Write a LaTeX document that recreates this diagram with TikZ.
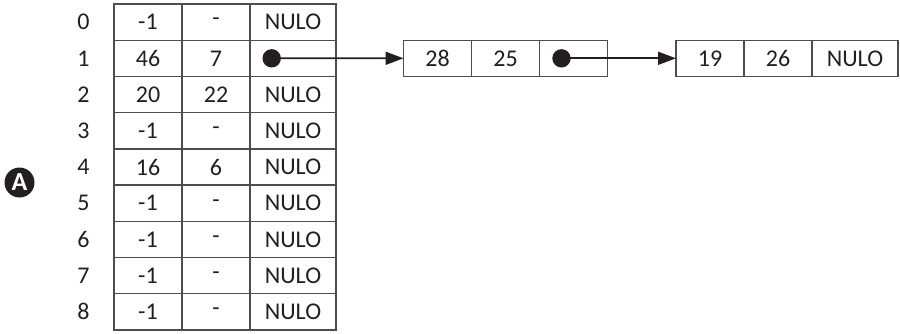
\documentclass[tikz,border=0pt]{standalone}
\usepackage{fontspec}
\setmainfont{Carlito}
\usetikzlibrary{arrows.meta}
\definecolor{gridgray}{HTML}{4D4D4D}
\definecolor{inkcol}{HTML}{231F20}
\begin{document}
\begin{tikzpicture}[x=1pt,y=-1pt,
  cell/.style={draw=gridgray, line width=1.4pt, minimum height=36.2pt,
    inner sep=0pt, outer sep=0pt, anchor=north west, text=inkcol,
    font=\fontsize{24}{27}\selectfont},
  narrow/.style={cell, minimum width=68pt},
  wide/.style={cell, minimum width=86pt},
  idx/.style={text=inkcol, font=\fontsize{24}{27}\selectfont, inner sep=0pt},
  ptr/.style={draw=inkcol, line width=1.8pt,
    -{Triangle[length=18pt,width=13pt]}},
  dot/.style={fill=inkcol},
  badge/.style={circle, fill=inkcol, minimum size=30pt, inner sep=0pt,
    text=white, font=\fontsize{26}{28}\selectfont\bfseries}]
\useasboundingbox (0,0) rectangle (900,333);

% hash table: index, key, value, next
\foreach \i/\k/\v/\n in {0/-1/-/NULO, 1/46/7/, 2/20/22/NULO, 3/-1/-/NULO,
    4/16/6/NULO, 5/-1/-/NULO, 6/-1/-/NULO, 7/-1/-/NULO, 8/-1/-/NULO} {
  \node[narrow] (t\i a) at (114, 4+36.22*\i) {\k};
  \node[narrow] (t\i b) at (182, 4+36.22*\i) {\v};
  \node[wide]   (t\i c) at (250, 4+36.22*\i) {\n};
  \node[idx] (r\i) at (83.5, 22.1+36.22*\i) {\i};
}

% chained list nodes
\node[narrow] (p1a) at (403.5, 40.2) {28};
\node[narrow] (p1b) at (471.5, 40.2) {25};
\node[narrow] (p1c) at (539.5, 40.2) {};
\node[narrow] (p2a) at (676, 40.2) {19};
\node[narrow] (p2b) at (744, 40.2) {26};
\node[wide]   (p2c) at (812, 40.2) {NULO};

% pointers
\coordinate (d1) at ([xshift=21.7pt]t1c.west);
\coordinate (d2) at ([xshift=22pt]p1c.west);
\draw[ptr] (d1) -- (p1a.west);
\draw[ptr] (d2) -- (p2a.west);
\fill[dot] (d1) circle (9.2);
\fill[dot] (d2) circle (9.2);

% badge
\node[badge] (mark) at (19.5, 182.5) {A};
\end{tikzpicture}
\end{document}
